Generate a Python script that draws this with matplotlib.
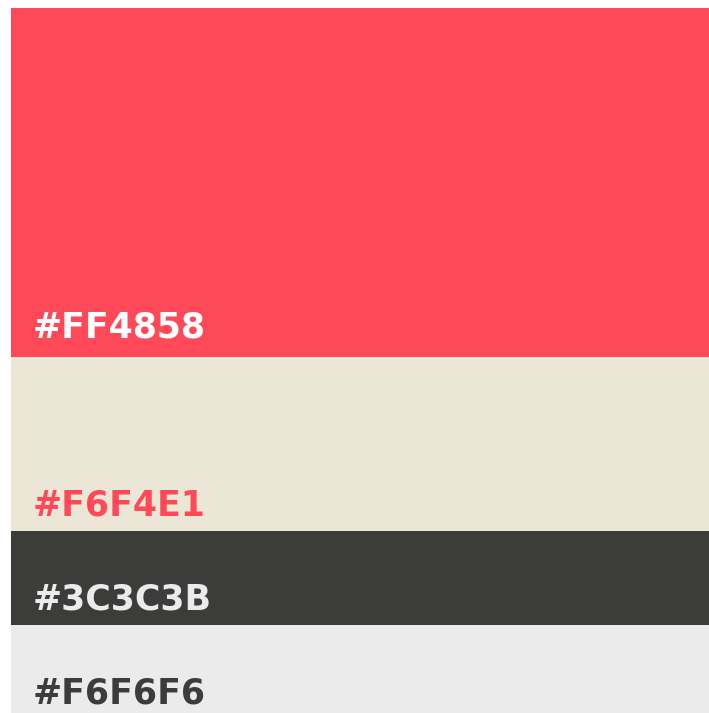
import matplotlib
matplotlib.use("Agg")
import matplotlib.pyplot as plt

labels = ["#FF4858", "#F6F4E1", "#3C3C3B", "#F6F6F6"]
fill_colors = ["#FF4858", "#EBE6D6", "#3C3C3B", "#EBEBEB"]
text_colors = ["#FFFFFF", "#FF4858", "#EBEBEB", "#3C3C3B"]
band_heights = [349, 174, 94, 88]

W, H = 709, 713
fig = plt.figure(figsize=(W / 100, H / 100), dpi=100)
ax = fig.add_axes([11 / W, 0, (W - 11) / W, (H - 8) / H])

bottoms = []
acc = 0
for h in band_heights:
    bottoms.append(acc)
    acc += h

ax.bar([0] * len(band_heights), band_heights, bottom=bottoms, width=1,
       align="edge", color=fill_colors, linewidth=0)

offsets = [19, 16, 15, 10]
for lab, b, h, tc, off in zip(labels, bottoms, band_heights, text_colors, offsets):
    ax.text(22 / (W - 11), b + h - off, lab, color=tc, fontsize=25,
            fontweight="bold", family=["DejaVu Sans"],
            ha="left", va="baseline")

ax.set_xlim(0, 1)
ax.set_ylim(acc, 0)
ax.axis("off")
fig.savefig("out.png", dpi=100)
